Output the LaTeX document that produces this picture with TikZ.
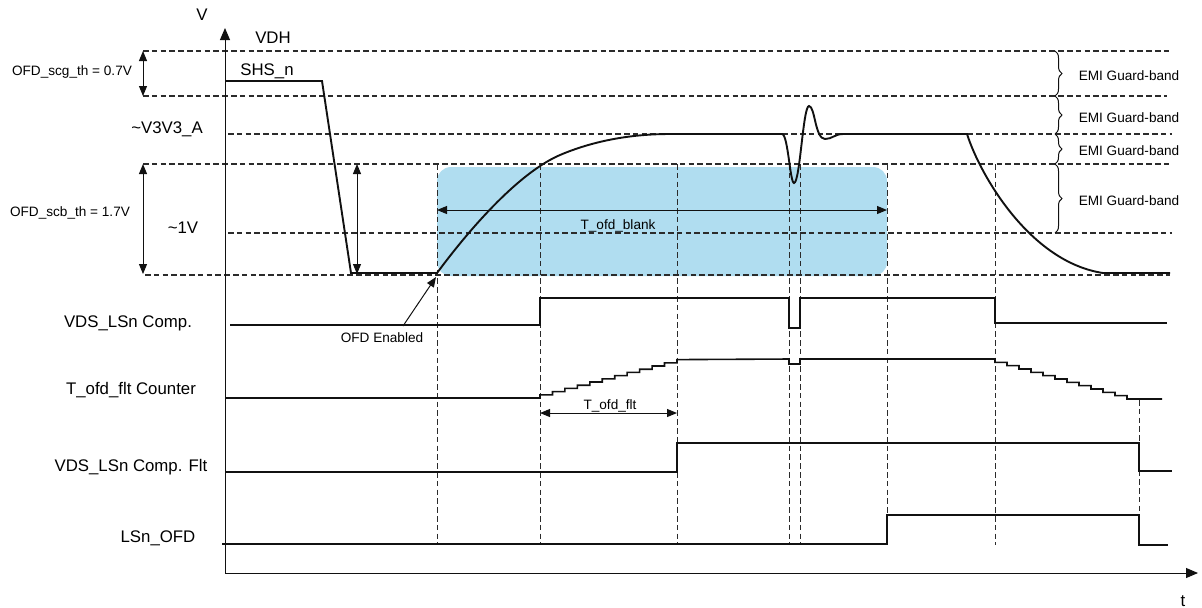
\documentclass[tikz,border=0pt]{standalone}
\usepackage{fontspec}
\setmainfont{Liberation Sans}
\usetikzlibrary{arrows.meta,decorations.pathreplacing}
\definecolor{OfdBlank}{HTML}{B0DDF0}
\definecolor{OfdInk}{HTML}{111111}
\definecolor{OfdGrid}{HTML}{2B2B2B}

\begin{document}
\begin{tikzpicture}[
    x=0.5pt, y=-0.5pt,
    sig/.style={line width=0.95pt, draw=OfdInk, line join=miter},
    level/.style={dash pattern=on 2.8pt off 1.6pt, line width=0.55pt, draw=OfdGrid},
    mark line/.style={dash pattern=on 2.8pt off 1.6pt, line width=0.5pt, draw=OfdGrid},
    span/.style={{Triangle[length=5pt,width=4pt]}-{Triangle[length=5pt,width=4pt]}, line width=0.5pt, draw=OfdInk},
    axis/.style={-{Triangle[length=6pt,width=5pt]}, line width=0.5pt, draw=OfdInk},
    pointer/.style={-{Triangle[length=5pt,width=4pt]}, line width=0.5pt, draw=OfdInk},
    lbl/.style={font=\fontsize{8.4}{10}\selectfont, inner sep=0pt},
    note/.style={font=\fontsize{6.8}{8}\selectfont, inner sep=0pt},
    band/.style={decorate, decoration={brace, amplitude=3.5pt}, line width=0.5pt, draw=OfdInk}
  ]
    \useasboundingbox (0,0) rectangle (1202,607);

    \fill[OfdBlank, rounded corners=7pt] (437,167) rectangle (887,276);

    \draw[level] (143,51) -- (1170,51);
    \draw[level] (143,96) -- (1167,96);
    \draw[level] (228,134) -- (1172,134);
    \draw[level] (143,164) -- (1172,164);
    \draw[level] (228,233) -- (1172,233);
    \draw[level] (145,275) -- (1170,275);

    \foreach \tx in {437,540,677,789,800,887,995}
      \draw[mark line] (\tx,164) -- (\tx,545);
    \draw[mark line] (1139,400) -- (1139,545);

    \coordinate (origin) at (225,573);
    \coordinate (vtop) at (225,28);
    \coordinate (tend) at (1198,573);
    \draw[axis] (origin) -- (vtop);
    \draw[axis] (origin) -- (tend);

    \node[lbl] (vlab) at (202,15) {V};
    \node[lbl] (tlab) at (1183,601) {t};
    \node[lbl] (vdh) at (273,38) {VDH};
    \node[lbl] (shs) at (267,71) {SHS\_n};
    \node[lbl] (v3v3) at (167,129) {\textasciitilde V3V3\_A};
    \node[lbl] (onev) at (183,228) {\textasciitilde 1V};
    \node[note] (scg) at (72,72) {OFD\_scg\_th = 0.7V};
    \node[note] (scb) at (70,213) {OFD\_scb\_th = 1.7V};

    \coordinate (scgtop) at (143,51);
    \coordinate (scgbot) at (143,96);
    \coordinate (scbtop) at (143,164);
    \coordinate (scbbot) at (143,274);
    \coordinate (droptop) at (357,164);
    \coordinate (dropbot) at (357,274);
    \draw[span] (scgtop) -- (scgbot);
    \draw[span] (scbtop) -- (scbbot);
    \draw[span] (droptop) -- (dropbot);

    \draw[sig] (226,81) -- (322,81) -- (351,273) -- (437,273)
      .. controls (480,215) and (525,170) .. (560,155)
      .. controls (600,138) and (640,134) .. (670,134) -- (782,134)
      .. controls (788,134) and (790,183) .. (794,183)
      .. controls (800,183) and (803,106) .. (809,106)
      .. controls (815,106) and (815,139) .. (825,139)
      .. controls (832,139) and (835,134) .. (843,134) -- (967,134)
      .. controls (980,175) and (1030,262) .. (1103,273) -- (1170,273);

    \coordinate (blankL) at (437,210);
    \coordinate (blankR) at (887,210);
    \draw[span] (blankL) -- (blankR);
    \node[note, anchor=base] (blank) at (618,229) {T\_ofd\_blank};

    \node[note] (enabled) at (382,338) {OFD Enabled};
    \coordinate (enabledtip) at (436,277);
    \draw[pointer] (403,326) -- (enabledtip);

    \foreach \by/\ly in {51/96,96/134,134/164,164/233}
      \draw[band] (1055,\by) -- (1055,\ly);
    \foreach \gy in {76,118,151,201}
      \node[note] (emi\gy) at (1129,\gy) {EMI Guard-band};

    \node[lbl] (comp) at (128,323) {VDS\_LSn Comp.};
    \node[lbl] (counter) at (131,390) {T\_ofd\_flt Counter};
    \node[lbl] (compflt) at (131,467) {VDS\_LSn Comp. Flt};
    \node[lbl] (lsnofd) at (158,538) {LSn\_OFD};

    \draw[sig] (230,325) -- (540,325) -- (540,298) -- (789,298) -- (789,328)
      -- (800,328) -- (800,298) -- (995,298) -- (995,323) -- (1167,323);

    \draw[sig, line width=0.8pt] (226,398) -- (540,398) -- ++(0,-3.2)
      foreach \k in {1,...,11} { -- ++(12.45,0) -- ++(0,-3.2) }
      -- (789,359) -- (789,364) -- (800,364) -- (800,359) -- (995,359)
      foreach \k in {1,...,12} { -- ++(0,3.33) -- ++(12,0) }
      -- ++(23,0);

    \coordinate (fltL) at (540,413);
    \coordinate (fltR) at (677,413);
    \draw[span] (fltL) -- (fltR);
    \node[note, anchor=base] (flt) at (610,409) {T\_ofd\_flt};

    \draw[sig] (226,472) -- (677,472) -- (677,443) -- (1139,443) -- (1139,471) -- (1172,471);
    \draw[sig] (222,544) -- (887,544) -- (887,515) -- (1139,515) -- (1139,545) -- (1168,545);
  \end{tikzpicture}
\end{document}
